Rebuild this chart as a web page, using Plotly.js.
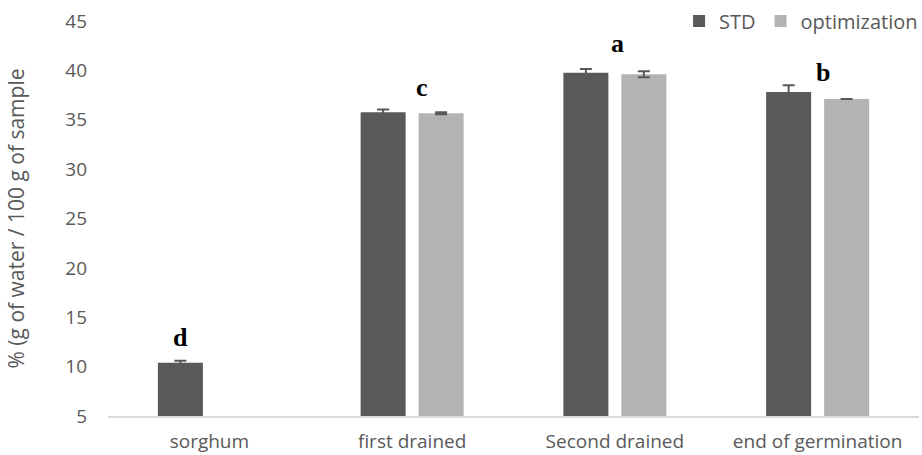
<!DOCTYPE html>
<html>
<head>
<meta charset="utf-8">
<script src="https://cdn.plot.ly/plotly-3.0.1.min.js"></script>
<style>html,body{margin:0;padding:0;background:#fff;}#chart{width:922px;height:455px;}</style>
</head>
<body>
<div id="chart"></div>
<script>
const categories = ["sorghum", "first drained", "Second drained", "end of germination"];
const stdValues = [10.4, 35.75, 39.75, 37.8];
const stdErrors = [0.2, 0.3, 0.4, 0.7];
const optValues = [null, 35.65, 39.6, 37.1];
const optErrors = [0, 0.1, 0.3, 0];
const letters = ["d", "c", "a", "b"];
const letterY = [13.0, 38.3, 42.7, 39.8];
const letterShift = [-29, 10, 3, 5];
const yTicks = [5, 10, 15, 20, 25, 30, 35, 40, 45];

const traces = [
  {
    type: "bar", name: "STD", x: categories, y: stdValues,
    marker: {color: "#595959"},
    error_y: {type: "data", array: stdErrors, visible: true, color: "#595959", thickness: 2, width: 6}
  },
  {
    type: "bar", name: "optimization", x: categories, y: optValues,
    marker: {color: "#b3b3b3"},
    error_y: {type: "data", array: optErrors, visible: true, color: "#595959", thickness: 2, width: 6}
  }
];

const annotations = letters.map((t, i) => ({
  x: categories[i], y: letterY[i], xref: "x", yref: "y", text: t, showarrow: false,
  xshift: letterShift[i],
  font: {family: "Liberation Serif, Times New Roman, serif", size: 26, color: "#000", weight: "bold"}
}));

const layout = {
  width: 922, height: 455,
  margin: {l: 108, r: 3, t: 21, b: 39, autoexpand: false},
  paper_bgcolor: "#fff", plot_bgcolor: "#fff",
  font: {family: "Open Sans, sans-serif", color: "#595959", size: 19},
  barmode: "group", bargap: 0.428, bargroupgap: 0.224,
  showlegend: true,
  legend: {orientation: "h", x: 1.005, xanchor: "right", y: 1.0, yanchor: "middle",
           font: {size: 20, color: "#595959"}, itemwidth: 30, traceorder: "normal",
           bgcolor: "rgba(0,0,0,0)"},
  xaxis: {type: "category", showline: true, linecolor: "#d9d9d9", linewidth: 1.5,
          ticks: "", tickfont: {size: 19, color: "#595959"}, ticklabelstandoff: 8,
          showgrid: false, zeroline: false},
  yaxis: {range: [5, 45], tickvals: yTicks, showline: false, showgrid: false, zeroline: false,
          ticks: "", tickfont: {size: 19, color: "#595959"}, ticklabelstandoff: 20,
          title: {text: "% (g of water / 100 g of sample", font: {size: 21, color: "#595959"}, standoff: 34}},
  annotations: annotations
};

Plotly.newPlot("chart", traces, layout, {displayModeBar: false, staticPlot: true});
</script>
</body>
</html>
